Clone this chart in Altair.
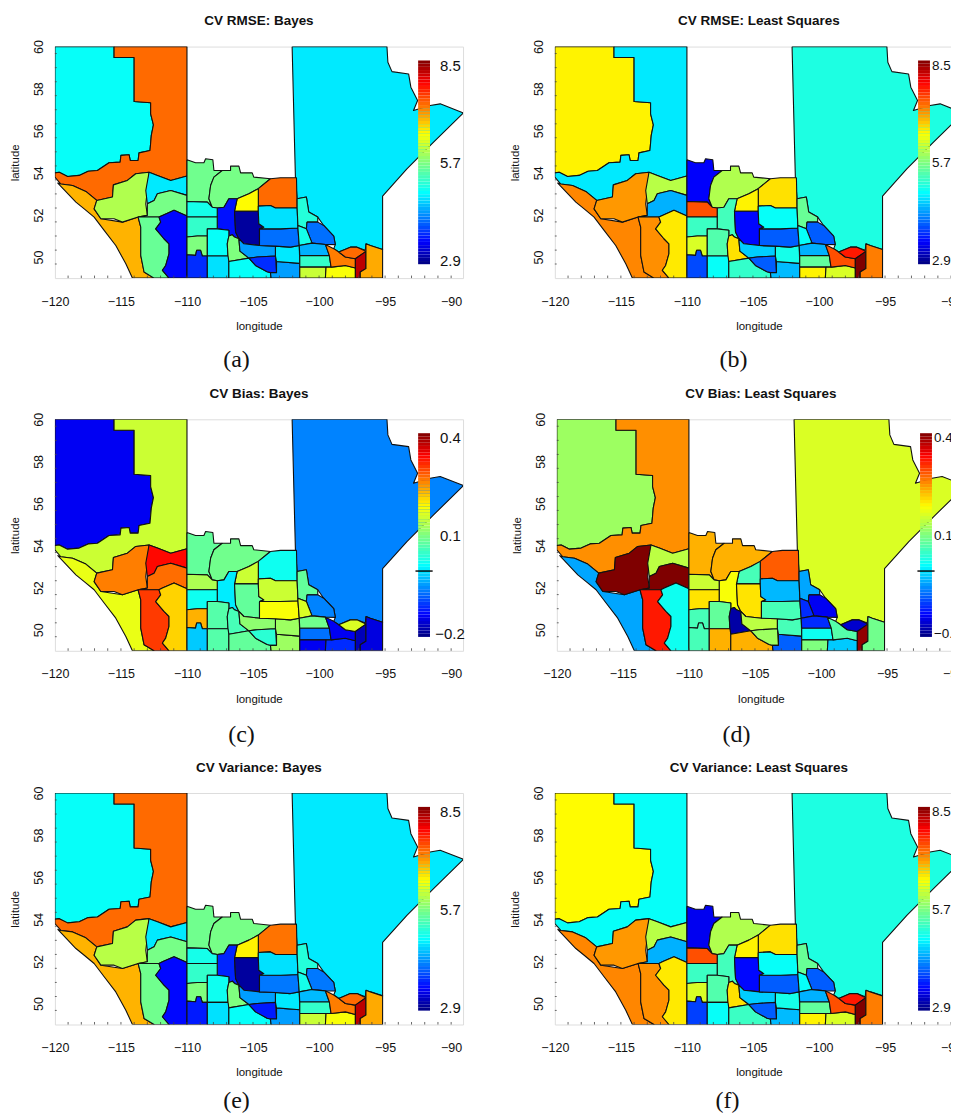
import altair as alt
import pandas as pd

# Region outlines (longitude, latitude)
NW_EDGE = [(-114.0,59.48),(-114.0,57.39),(-112.75,57.33),(-112.75,56.80),(-112.54,56.28),(-112.7,55.78),(-112.8,55.06),
           (-113.63,54.95),(-113.7,54.59),(-114.3,54.59),(-114.38,54.86),(-115.0,54.83),(-115.06,54.51),(-115.9,54.48),
           (-116.78,54.11),(-117.48,54.08),(-118.16,53.88),(-119.04,53.83),(-119.67,54.03),(-120,54.0)]
P = (-105.31,49.95)
REGIONS = {
 "M1": [(-102.04,60),(-94.86,60),(-94.79,59.26),(-94.48,58.81),(-93.22,58.7),(-93.05,58.07),(-92.54,57.44),(-92.85,56.96),
        (-91.59,57.2),(-90.83,57.28),(-89.07,56.85),(-91.33,55.46),(-93.35,54.19),(-95.19,52.9),(-95.19,50.36),(-96.12,50.55),
        (-96.45,50.63),(-96.5,50.32),(-97.13,50.47),(-97.63,50.47),(-98.51,50.24),(-98.89,50.4),(-98.77,50.59),(-98.89,51),
        (-99.65,51.5),(-100.1,51.9),(-100.78,52.14),(-100.96,52.85),(-101.66,52.77),(-101.79,53.77),(-101.86,55.46)],
 "R1": [(-120,60),(-115.52,60),(-115.52,59.48)] + NW_EDGE,
 "R2": [(-115.52,60),(-110,60),(-110,53.85),(-111.23,53.64),(-112.24,53.88),(-112.87,54.03),(-113.88,53.96),(-114.51,53.64),
        (-115.57,53.43),(-115.64,52.85),(-116.83,52.69),(-117.66,53.12),(-118.66,53.40),(-119.55,53.47),(-120,53.8)]
       + NW_EDGE[::-1] + [(-115.52,59.48)],
 "R3": [(-119.8,53.53),(-119.55,53.47),(-118.66,53.40),(-117.66,53.12),(-116.83,52.69),(-117.03,52.29),(-116.52,51.82),(-114.89,51.66),
        (-113.7,51.9),(-113.5,51.42),(-113.5,50.71),(-113.5,50.08),(-113.25,49.29),(-112.49,49),(-114.13,49),(-114.63,49.68),
        (-115.39,50.55),(-116.27,51.27),(-117.03,51.9),(-117.78,52.29),(-118.41,52.61)],
 "R4": [(-116.83,52.69),(-115.64,52.85),(-115.57,53.43),(-114.51,53.64),(-113.88,53.96),(-112.87,54.03),(-113,53.16),(-113.12,52.53),
        (-113,51.98),(-113.7,51.9),(-114.89,51.66),(-115.52,51.82),(-116.52,51.82),(-117.03,52.29)],
 "R5": [(-112.87,54.03),(-112.24,53.88),(-111.23,53.64),(-110,53.85),(-110,52.93),(-111.23,53.16),(-112.24,53.01),(-112.49,52.69),
        (-113,52.53),(-113.12,53.16)],
 "R6": [(-113,52.53),(-112.49,52.69),(-112.24,53.01),(-111.23,53.16),(-110,52.93),(-110,51.95),(-110.98,52.22),(-111.86,51.98),
        (-112.12,51.9),(-113.7,51.9),(-113,51.98)],
 "R7": [(-113.7,51.9),(-112.12,51.9),(-111.99,51.66),(-112.37,51.34),(-111.74,50.87),(-111.36,50.63),(-111.36,50.16),(-111.61,49.6),
        (-111.86,49.37),(-111.36,49),(-112.49,49),(-113.25,49.29),(-113.5,50.08),(-113.5,51.42)],
 "R8": [(-112.12,51.9),(-111.86,51.98),(-110.98,52.22),(-110,51.95),(-110,49),(-111.36,49),(-111.86,49.37),(-111.61,49.6),(-111.36,50.16),
        (-111.36,50.63),(-111.74,50.87),(-112.37,51.34),(-111.99,51.66)],
 "S1": [(-110,54.62),(-109.35,54.48),(-108.72,54.48),(-108.59,54.67),(-108.04,54.62),(-107.96,54.11),(-107.33,54.11),(-107.96,53.8),
        (-108.21,53.4),(-108.34,52.77),(-108.09,52.37),(-108.46,52.61),(-110,52.64)],
 "S2": [(-107.33,54.11),(-106.7,54.11),(-106.7,54.32),(-106.07,54.32),(-105.94,54),(-105.06,54),(-104.94,53.8),(-103.68,53.72),
        (-104.6,53.25),(-105.31,53.01),(-106.2,52.77),(-106.83,52.77),(-107.2,52.37),(-107.71,52.33),(-108.09,52.37),(-108.34,52.77),
        (-108.21,53.4),(-107.96,53.8)],
 "S3": [(-103.68,53.72),(-102.92,53.77),(-101.71,53.77),(-101.66,52.33),(-103.3,52.33),(-103.68,52.45),(-104.6,52.42),(-104.6,53.25)],
 "S4": [(-104.6,53.25),(-104.6,52.18),(-106.4,52.18),(-106.2,52.77),(-105.31,53.01)],
 "S5": [(-107.71,52.33),(-107.2,52.37),(-106.83,52.77),(-106.2,52.77),(-106.4,52.18),(-106.32,51.19),(-106.07,50.87),(-106.4,50.95),
        (-106.57,51.06),(-106.83,51),(-106.83,51.27),(-107.71,51.34)],
 "S6": [(-106.4,52.18),(-104.6,52.18),(-104.56,51.58),(-104.18,51.42),(-104.51,51.34),(-104.51,50.55),(-105.69,50.63),(-106.07,50.87),(-106.32,51.19)],
 "S7": [(-110,52.64),(-108.46,52.61),(-108.09,52.37),(-107.71,52.33),(-107.71,51.9),(-110,51.9)],
 "S8": [(-110,51.9),(-107.71,51.9),(-107.71,51.34),(-108.46,51.34),(-108.46,51),(-109.22,51),(-110,50.95)],
 "S9": [(-110,50.95),(-109.22,51.0),(-108.46,51),(-108.46,50.05),(-108.84,50.05),(-108.97,50.32),(-109.27,50.32),(-109.35,50.08),(-110,50.11)],
 "S10": [(-110,50.11),(-109.35,50.08),(-109.27,50.32),(-108.97,50.32),(-108.84,50.05),(-108.46,50.05),(-108.46,49),(-110,49)],
 "S11": [(-108.46,51.34),(-107.71,51.34),(-106.83,51.27),(-106.83,51),(-106.95,50.63),(-106.9,50.08),(-106.85,50.05),(-108.46,50.05)],
 "S12": [(-108.46,50.05),(-106.85,50.05),(-106.83,49.79),(-106.83,49),(-108.46,49)],
 "S13": [(-106.83,51),(-106.57,51.06),(-106.4,50.95),(-106.07,50.87),(-105.99,50.28),P,(-106.83,49.79),(-106.9,50.08),(-106.95,50.63)],
 "S14": [(-106.83,49.79),P,(-104.81,49.6),(-103.93,49.3),(-103.68,49.26),(-103.63,49),(-106.83,49)],
 "S15": [(-106.07,50.87),(-105.69,50.63),(-104.51,50.55),(-103.3,50.52),(-103.3,50.05),(-104.68,50),P,(-105.99,50.28)],
 "S16": [P,(-104.68,50),(-103.3,50.05),(-103.22,49.26),(-103.68,49.26),(-103.93,49.3),(-104.81,49.6)],
 "S17": [(-103.22,49.79),(-101.46,49.7),(-101.46,49),(-103.63,49),(-103.68,49.26),(-103.22,49.26)],
 "S18": [(-103.3,50.52),(-102.17,50.47),(-101.5,50.55),(-101.46,49.7),(-103.22,49.79),(-103.3,50.05)],
 "S19": [(-104.51,51.34),(-102.92,51.34),(-101.6,51.38),(-101.5,50.55),(-102.17,50.47),(-103.3,50.52),(-104.51,50.55)],
 "S20": [(-104.6,52.42),(-103.68,52.45),(-103.3,52.33),(-101.66,52.33),(-101.6,51.38),(-102.92,51.34),(-104.51,51.34),(-104.18,51.42),(-104.56,51.58),(-104.6,52.18)],
 "M2": [(-101.66,52.77),(-100.96,52.85),(-100.78,52.14),(-100.1,51.9),(-100.1,51.66),(-100.91,51.66),(-100.96,51.34),(-101.6,51.5),(-101.66,52.33)],
 "M3": [(-100.91,51.66),(-100.1,51.66),(-99.65,51.5),(-98.89,51),(-98.77,50.59),(-99.52,50.6),(-100.53,50.66),(-100.96,51.34)],
 "M4": [(-101.6,51.5),(-100.96,51.34),(-100.53,50.66),(-101.5,50.55),(-101.6,51.38)],
 "M5": [(-101.5,50.55),(-100.53,50.66),(-99.52,50.6),(-99.22,50.07),(-101.46,50.07)],
 "M6": [(-101.46,50.07),(-99.22,50.07),(-99.09,49.52),(-101.46,49.52)],
 "M7": [(-101.46,49.52),(-99.47,49.52),(-99.52,49),(-101.46,49)],
 "M8": [(-99.47,49.52),(-99.09,49.52),(-98.39,49.57),(-98.01,49.6),(-97.25,49.48),(-97.25,49),(-99.52,49)],
 "M9": [(-99.52,50.6),(-98.89,50.4),(-98.51,50.24),(-98.01,50),(-97.25,49.92),(-97.25,49.48),(-98.01,49.6),(-99.09,49.52),(-99.22,50.07)],
 "M10": [(-98.51,50.24),(-97.63,50.47),(-97.13,50.47),(-96.62,50.32),(-96.45,50.27),(-97.25,49.92),(-98.01,50)],
 "M11": [(-97.25,49.92),(-96.45,50.27),(-96.45,49.45),(-96.88,49.29),(-96.88,49),(-97.25,49)],
 "M12": [(-96.45,50.63),(-96.12,50.55),(-95.19,50.36),(-95.19,49),(-96.88,49),(-96.88,49.29),(-96.45,49.45)],
}

ORDER = ["M1","R1","R2","R3","R4","R5","R6","R7","R8","S1","S2","S3","S4","S5","S6","S7","S8","S9","S10",
         "S11","S12","S13","S14","S15","S16","S17","S18","S19","S20","M2","M3","M4","M5","M6","M7","M8","M9","M10","M11","M12"]

# Values per region, in ORDER
RMSE_BAYES = [4.75,4.9,7.3,6.9,6.0,4.75,5.65,5.55,3.55,5.6,5.65,7.3,6.5,3.6,3.05,5.0,5.2,5.7,3.75,4.9,4.7,5.7,4.9,4.35,3.75,4.35,4.75,4.1,4.7,
              5.1,4.1,5.0,4.45,5.2,6.15,6.45,7.2,7.3,8.2,6.95]
RMSE_LS = [5.05,6.55,4.75,7.15,7.05,6.05,4.45,7.1,6.6,3.5,6.0,6.65,6.55,5.3,3.55,7.45,5.25,6.25,3.9,5.4,4.9,6.65,5.2,4.6,4.0,4.5,5.0,4.0,4.9,
           5.55,4.0,4.9,4.45,5.5,6.55,6.25,7.45,7.75,8.5,7.2]
BIAS_BAYES = [-.06,-.14,.15,.17,.26,.33,.27,.30,.21,.08,.09,.02,.15,0,.08,.13,.02,.23,-.02,.07,.07,.06,.08,.11,.04,.12,.12,.18,.15,
              .08,-.06,.16,.09,-.07,-.14,-.11,-.14,.16,-.17,-.15]
BIAS_LS = [.16,.12,.25,-.04,.4,.14,.4,.32,.02,.23,.23,.28,.06,.18,.2,.15,.2,.06,.06,.08,.23,-.18,.23,.14,.12,-.08,.06,.06,-.03,
           -.04,-.14,-.11,-.11,.02,.1,-.02,.07,-.16,.39,.09]
VAR_BAYES = [4.75,4.9,7.3,6.9,6.05,4.75,5.65,5.6,3.55,5.6,5.65,7.25,6.55,3.7,3.05,5.0,5.2,5.7,3.65,4.95,4.7,5.7,4.9,4.35,3.65,4.35,4.75,4.15,4.7,
             5.1,4.15,5.0,4.5,5.2,6.15,6.45,7.2,7.3,8.2,6.95]
VAR_LS = [5.05,6.5,4.9,7.15,7.05,6.05,4.45,7.1,6.6,3.45,6.0,6.65,6.55,5.3,3.55,7.45,5.25,6.25,3.85,5.4,4.9,6.65,5.25,4.6,4.0,4.5,5.0,4.0,4.9,
          5.55,4.0,4.9,4.45,5.5,6.55,6.25,7.45,7.75,8.5,7.2]

JET = ["#00007f","#0000ff","#00ffff","#7fff7f","#ffff00","#ff0000","#7f0000"]
JET_STOPS = [0,.11,.35,.5,.64,.89,1]

X_TICKS = [-120,-115,-110,-105,-100,-95,-90]
Y_TICKS = [50,52,54,56,58,60]
LON_MINOR = [-119,-118,-117,-116,-115,-114,-113,-112,-111,-110,-109,-108,-107,-106,-105,-104,-103,-102,-101,-100,-99,-98,-97,-96,-95,-94,-93,-92,-91,-90]
LAT_MINOR = [49.67,50.33,51,51.67,52.33,53,53.67,54.33,55,55.67,56.33,57,57.67,58.33,59,59.67]

# Colour bar drawn inside each map: its place on the map axes
BAR_LON = (-92.5, -91.6)
BAR_LAT = (49.66, 59.34)
BAR_LEVELS = 64
BAR_LABEL_LON = -90.85
BAR_LABEL_LON_NEG = -91.2
BAR_LABEL_LON_RIGHT = -91.45
BAR_LABEL_LAT = [49.8, 54.45, 59.1]
ZERO_TICK_LAT = 52.79
ZERO_TICK_LON = (-92.7, -91.4)

SANS = "Liberation Sans"
W, H = 409, 232


def panel(title, caption, values, bar_labels, cap_x, cap_y, zero_tick=False, right=False):
    lo, hi = float(bar_labels[0]), float(bar_labels[2])
    rows = []
    for name, val in zip(ORDER, values):
        pts = REGIONS[name] + [REGIONS[name][0]]
        for i, (lon, lat) in enumerate(pts):
            rows.append({"rank": ORDER.index(name), "seq": i, "lon": lon, "lat": lat, "value": val})
    df = pd.DataFrame(rows)
    xs = alt.Scale(domain=[-120, -89.1], nice=False, zero=False)
    ys = alt.Scale(domain=[49, 60], nice=False, zero=False)
    fill_scale = alt.Scale(domain=[lo + (hi - lo) * s for s in JET_STOPS], range=JET, zero=False, nice=False,
                           interpolate="rgb")
    polys = alt.Chart(df).mark_line(stroke="#111", strokeWidth=1.1, clip=True, strokeJoin="round").encode(
        x=alt.X("lon:Q", scale=xs, title="longitude",
                axis=alt.Axis(values=X_TICKS, format="d", tickSize=0, domain=False, grid=False, labelPadding=17,
                              labelFlush=False, labelOverlap=False,
                              labelFont=SANS, labelFontSize=12.5, labelColor="#111", titleFont=SANS, titleFontSize=11.5,
                              titleFontWeight="normal", titleColor="#111", titlePadding=13)),
        y=alt.Y("lat:Q", scale=ys, title="latitude",
                axis=alt.Axis(values=Y_TICKS, format="d", tickSize=0, domain=False, grid=False, labelAngle=270,
                              labelFlush=False, labelOverlap=False,
                              labelPadding=9, labelFont=SANS, labelFontSize=12.5, labelColor="#111", titleFont=SANS,
                              titleFontSize=11.5, titleFontWeight="normal", titleColor="#111", titlePadding=12)),
        order="seq:Q",
        detail="rank:O",
        fill=alt.Fill("value:Q", scale=fill_scale, legend=None),
    )
    tick_x = alt.Chart(pd.DataFrame({"lon": LON_MINOR, "a": [49] * len(LON_MINOR), "b": [49.12] * len(LON_MINOR)})).mark_rule(
        color="#444", strokeWidth=0.8).encode(x=alt.X("lon:Q", scale=xs), y=alt.Y("a:Q", scale=ys), y2="b:Q")
    tick_y = alt.Chart(pd.DataFrame({"lat": LAT_MINOR, "a": [-120] * len(LAT_MINOR), "b": [-119.86] * len(LAT_MINOR)})).mark_rule(
        color="#444", strokeWidth=0.8).encode(y=alt.Y("lat:Q", scale=ys), x=alt.X("a:Q", scale=xs), x2="b:Q")

    # colour bar: one band per level of the colour scale
    band = (BAR_LAT[1] - BAR_LAT[0]) / BAR_LEVELS
    bar_df = pd.DataFrame([{"value": lo + (hi - lo) * (i + 0.5) / BAR_LEVELS,
                            "lat": BAR_LAT[0] + band * i, "lat2": BAR_LAT[0] + band * (i + 1),
                            "lon": BAR_LON[0], "lon2": BAR_LON[1]} for i in range(BAR_LEVELS)])
    bar = alt.Chart(bar_df).mark_rect().encode(
        x=alt.X("lon:Q", scale=xs), x2="lon2:Q", y=alt.Y("lat:Q", scale=ys), y2="lat2:Q",
        fill=alt.Fill("value:Q", scale=fill_scale, legend=None))
    if right:
        label_lons = [BAR_LABEL_LON_RIGHT] * 3
    else:
        label_lons = [BAR_LABEL_LON_NEG if s.startswith("-") else BAR_LABEL_LON for s in bar_labels]
    lab_df = pd.DataFrame({"t": [s.replace("-", "\u2212") for s in bar_labels],
                           "lat": BAR_LABEL_LAT, "lon": label_lons})
    bar_labels_layer = alt.Chart(lab_df).mark_text(font=SANS, fontSize=13.5 if right else 15, color="#111",
                                                   align="left", baseline="middle").encode(
        x=alt.X("lon:Q", scale=xs), y=alt.Y("lat:Q", scale=ys), text="t:N")

    cap = alt.Chart(pd.DataFrame({"t": [caption]})).mark_text(
        font="Liberation Serif", fontSize=24, color="#111", align="center", baseline="middle").encode(
        text="t:N", x=alt.value(cap_x), y=alt.value(cap_y))
    layers = [polys, tick_x, tick_y, bar, bar_labels_layer, cap]
    if zero_tick:
        layers.append(alt.Chart(pd.DataFrame({"lat": [ZERO_TICK_LAT], "a": [ZERO_TICK_LON[0]], "b": [ZERO_TICK_LON[1]]})).mark_rule(
            color="black", strokeWidth=1.4).encode(y=alt.Y("lat:Q", scale=ys), x=alt.X("a:Q", scale=xs), x2="b:Q"))
    return alt.layer(*layers).properties(
        width=W, height=H,
        title=alt.TitleParams(title, font=SANS, fontSize=13.5, fontWeight="bold", color="#111",
                              anchor="middle", offset=12),
    )


def row(left, right):
    return alt.hconcat(left, right, spacing=45).resolve_scale(fill="independent")


RMSE_LABELS = ["2.9", "5.7", "8.5"]
BIAS_LABELS = ["-0.2", "0.1", "0.4"]
row1 = row(panel("CV RMSE: Bayes", "(a)", RMSE_BAYES, RMSE_LABELS, 182, 314),
           panel("CV RMSE: Least Squares", "(b)", RMSE_LS, RMSE_LABELS, 179, 314, right=True))
row2 = row(panel("CV Bias: Bayes", "(c)", BIAS_BAYES, BIAS_LABELS, 187, 316, True),
           panel("CV Bias: Least Squares", "(d)", BIAS_LS, BIAS_LABELS, 180, 316, True, right=True))
row3 = row(panel("CV Variance: Bayes", "(e)", VAR_BAYES, RMSE_LABELS, 182, 309),
           panel("CV Variance: Least Squares", "(f)", VAR_LS, RMSE_LABELS, 173, 309, right=True))

top_rows = alt.vconcat(row1, row2, spacing=13.5).resolve_scale(fill="independent")
chart = (alt.vconcat(top_rows, row3, spacing=13)
         .resolve_scale(fill="independent")
         .properties(padding={"top": 4.5, "left": 1, "right": -15, "bottom": 0})
         .configure_view(stroke="#333", strokeWidth=1.4)
         .configure(background="white"))
chart.save("out.html", embed_options={"renderer": "svg", "actions": False})
